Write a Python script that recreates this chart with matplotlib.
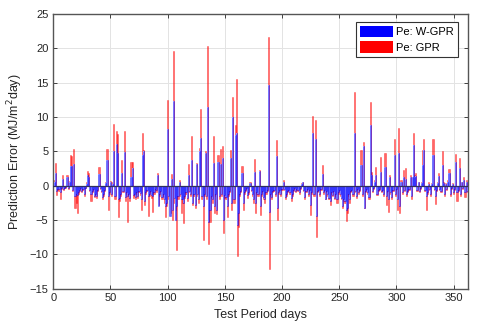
import numpy as np
import matplotlib
matplotlib.use("Agg")
import matplotlib.pyplot as plt
from matplotlib.patches import Patch

plt.rcParams['font.family'] = ['Liberation Sans', 'DejaVu Sans']

# prediction error per test day, GPR model (red)
gpr = [
    0.8, 3.3, -1.3, -0.6, -0.8, -2.0, -0.5, 1.5, -0.7, -0.4,
    -0.3, 1.6, -0.5, 0.7, 4.4, 4.3, -0.8, 5.3, -3.2, -2.5,
    -4.0, -1.2, -0.8, -0.5, -1.0, -0.6, -1.5, -0.4, 0.5, 2.2,
    1.8, -0.8, -2.2, -1.0, -0.6, -1.6, -1.4, -1.8, -0.8, 2.7,
    -0.5, -1.0, -2.0, -1.5, -0.8, 0.6, 5.4, -3.6, -1.2, 0.7,
    -1.5, 0.5, 9.0, -2.0, 8.0, 7.5, -4.6, -2.2, -1.5, 3.7,
    -1.0, 7.9, -2.3, -1.2, -5.3, -1.5, -2.3, 3.5, 3.4, -1.8,
    -1.5, -2.0, -1.2, -1.8, -1.0, -1.4, -3.5, 7.7, 5.2, -2.8,
    -1.2, -0.8, -4.4, -1.5, -1.0, -1.8, -3.8, -1.2, -0.6, -0.9,
    1.8, -2.8, -1.5, -1.0, -2.0, -1.5, -2.5, -4.5, -3.0, 12.5,
    -2.0, -4.0, 1.7, -5.0, 19.6, -2.5, -3.5, -9.4, -2.0, 0.8,
    -1.5, -4.0, -2.5, -5.5, -1.8, -1.2, -2.2, 3.2, -1.0, -1.5,
    7.2, -2.8, -1.5, -3.3, 3.3, -1.5, -2.5, 5.5, 11.2, -2.0,
    -7.9, -1.5, 5.0, -2.0, 20.4, -8.5, -5.3, -1.8, -2.5, 7.2,
    -4.0, -1.5, -4.2, 4.5, -2.0, 5.3, -1.5, 5.8, -6.9, -1.8,
    -2.0, -4.5, -1.5, -1.0, 5.2, -3.5, 12.9, -2.5, 8.8, 15.6,
    -10.2, -6.0, -1.5, -1.0, 2.8, -3.6, -1.2, -0.8, -0.5, -1.8,
    -1.2, 0.5, -0.8, -1.5, -2.5, 3.9, -4.0, -1.2, -1.5, 2.3,
    -4.3, -1.5, -1.0, -2.0, -2.5, -1.2, -0.8, 21.6, -12.1, -1.5,
    -2.0, -1.0, -0.8, -1.5, 6.6, -5.0, -1.2, -0.8, -1.5, -0.6,
    0.8, -0.6, -2.0, -1.5, -1.0, -0.8, -1.2, -2.2, -1.5, -0.8,
    -0.5, -1.0, -0.6, -0.8, -1.2, -0.5, 0.4, 0.6, -0.8, -2.0,
    -1.0, -0.6, -1.5, -0.8, -4.3, -1.2, 10.1, -1.5, 9.5, -7.5,
    -1.0, -0.8, -1.5, -0.6, 3.0, -1.2, -0.8, -2.0, -1.0, -1.5,
    -2.0, -2.8, -1.2, -1.5, -1.0, -2.0, -1.5, -2.5, -1.2, -0.8,
    -1.5, -2.0, -3.3, -2.2, -2.5, -5.1, -4.0, -1.5, -2.5, -1.0,
    -0.8, -1.5, 13.7, -1.0, -1.8, -0.6, -1.2, -0.8, 5.2, -1.5,
    6.4, -3.3, -1.0, -0.6, -1.2, -2.0, 12.2, 2.0, -1.0, -0.5,
    0.8, 2.7, -1.4, -0.8, -0.6, 4.2, -1.0, -0.8, -1.5, 4.7,
    -2.8, -1.0, -3.8, 1.6, -1.2, -2.0, -0.8, 6.8, -1.5, -0.6,
    -3.5, 8.4, -4.0, 0.8, -1.2, 2.3, -0.8, 2.5, -1.5, -1.0,
    -0.6, 1.6, -2.0, 0.8, 7.6, 1.5, 1.9, -0.8, 0.6, -1.0,
    -0.5, 0.6, 5.2, 6.8, -0.8, -3.5, -1.2, 0.5, -0.6, -1.5,
    0.4, 6.8, -0.6, -2.7, -0.8, 0.5, 1.8, -0.6, -1.0, 5.0,
    0.6, -1.5, 0.4, -0.6, 0.8, 2.4, -1.5, -0.5, 0.4, -1.2,
    -0.6, 4.6, -2.3, -0.8, 4.0, -1.5, 0.6, -0.5, 1.2, -1.6,
    0.8, -1.0, 0.5,
]

# prediction error per test day, W-GPR model (blue)
wgpr = [
    0.5, 1.8, -0.8, -0.5, -0.5, -0.9, -0.4, 1.0, -0.5, -0.3,
    -0.2, 1.2, -0.4, 0.5, 2.8, 2.9, -0.6, 3.1, -1.5, -1.2,
    -1.3, -1.0, -0.7, -0.4, -0.8, -0.5, -1.2, -0.3, 0.3, 1.5,
    1.2, -0.6, -1.2, -0.8, -0.5, -1.5, -1.2, -1.5, -0.6, 1.7,
    -0.4, -0.8, -1.6, -1.2, -0.6, 0.4, 3.7, -1.5, -0.9, 0.5,
    -1.2, 0.3, 5.0, -1.5, 6.0, 4.8, -2.0, -1.8, -1.2, 1.9,
    -0.8, 4.9, -1.6, -1.0, -1.5, -1.2, -1.8, 1.2, 2.5, -1.4,
    -1.2, -1.6, -1.0, -1.5, -0.8, -1.1, -2.0, 4.5, 5.0, -2.2,
    -1.0, -0.6, -1.5, -1.2, -0.8, -1.4, -1.5, -1.0, -0.5, -0.7,
    1.5, -2.9, -1.2, -0.8, -1.6, -1.2, -2.0, -3.0, -2.5, 8.2,
    -1.5, -4.4, 1.0, -3.5, 12.4, -1.8, -5.0, -3.0, -1.5, 0.5,
    -1.2, -2.0, -2.0, -2.5, -1.5, -1.0, -1.8, 1.6, -0.8, -1.2,
    3.8, -2.5, -1.2, -2.8, 3.1, -1.2, -2.0, 5.0, 7.0, -1.5,
    -3.0, -1.2, 4.8, -1.5, 11.5, -5.3, -3.5, -1.5, -2.0, 3.3,
    -3.0, -1.2, -3.5, 3.5, -1.5, 3.2, -1.2, 4.0, -5.0, -1.4,
    -1.6, -3.0, -1.2, -0.8, 4.0, -2.5, 10.0, -2.0, 7.4, 7.6,
    -5.8, -4.0, -1.2, -0.8, 1.9, -2.5, -1.0, -0.6, -0.4, -1.4,
    -1.0, 0.4, -0.6, -1.2, -2.0, 2.0, -2.5, -1.0, -1.2, 2.2,
    -3.0, -1.2, -0.8, -1.6, -2.0, -1.0, -0.6, 14.6, -3.8, -1.2,
    -1.6, -0.8, -0.6, -1.2, 4.3, -3.3, -1.0, -0.6, -1.2, -0.5,
    0.5, -0.5, -1.6, -1.2, -0.8, -0.6, -1.0, -1.8, -1.2, -0.6,
    -0.4, -0.8, -0.5, -0.6, -1.0, -0.4, 0.3, 0.5, -0.6, -1.6,
    -0.8, -0.5, -1.2, -0.6, -2.8, -1.0, 7.6, -1.2, 6.8, -4.4,
    -0.8, -0.6, -1.2, -0.5, 1.7, -1.0, -0.6, -2.0, -0.8, -1.2,
    -1.8, -2.2, -1.0, -1.4, -0.8, -1.8, -1.2, -2.0, -1.0, -0.6,
    -1.2, -1.8, -3.0, -2.0, -2.2, -3.5, -3.2, -1.2, -2.0, -0.8,
    -0.6, -1.2, 7.7, -0.8, -1.5, -0.5, -1.0, -0.6, 3.0, -1.2,
    5.8, -3.2, -0.8, -0.5, -1.0, -1.6, 8.9, 1.5, -0.8, -0.4,
    0.5, 1.6, -1.2, -0.6, -0.5, 2.0, -0.8, -0.6, -1.2, 2.7,
    -1.5, -0.8, -2.0, 1.2, -1.0, -1.6, -0.6, 4.4, -1.2, -0.5,
    -2.0, 4.8, -3.0, 0.5, -1.0, 1.2, -0.6, 1.0, -1.2, -0.8,
    -0.5, 1.2, -1.5, 1.2, 5.9, 1.3, 1.4, -0.6, 0.5, -0.8,
    -0.4, 0.4, 3.0, 5.2, -0.6, -1.5, -1.0, 0.3, -0.5, -1.2,
    0.3, 4.4, -0.5, -1.5, -0.6, 0.4, 1.4, -0.5, -0.8, 3.0,
    0.4, -1.2, 0.3, -0.5, 0.6, 1.8, -1.2, -0.4, 0.3, -1.0,
    -0.5, 3.4, -1.0, -0.6, 2.6, -1.2, 0.5, -0.4, 0.8, -1.0,
    0.5, -0.8, 0.3,
]

days = np.arange(1, len(gpr) + 1)

fig = plt.figure(figsize=(4.8, 3.34), dpi=100)
ax = fig.add_axes([0.111, 0.136, 0.865, 0.822])

# red GPR bars, then white mask + blue W-GPR bars on top
ax.bar(days, gpr, width=1.0, color='red', alpha=0.6, linewidth=0.4,
       edgecolor=(1, 0, 0, 0.3), zorder=2)
ax.bar(days, wgpr, width=1.0, color='white', linewidth=0, zorder=3)
ax.bar(days, wgpr, width=1.0, color='blue', alpha=0.6, linewidth=0.4,
       edgecolor=(0, 0, 1, 0.3), zorder=4)
ax.axhline(0, color='#303060', lw=0.9, zorder=5)

ax.set_xlim(0, 363)
ax.set_ylim(-15, 25)
ax.set_xticks(range(0, 351, 50))
ax.set_yticks(range(-15, 26, 5))
ax.grid(True, color='#e3e3e3', lw=0.7, zorder=0)
ax.set_axisbelow(True)
ax.tick_params(direction='in', top=True, right=True, labelsize=8,
               colors='#262626', length=3, width=0.6)
for s in ax.spines.values():
    s.set_color('#555555')
    s.set_linewidth(1.0)

ax.set_xlabel('Test Period days', fontsize=9, color='#262626', labelpad=4)
ax.set_ylabel('Prediction Error (MJ/m$^2$day)', fontsize=9, color='#262626', labelpad=3)

handles = [Patch(facecolor='blue', edgecolor='none', label='Pe: W-GPR'),
           Patch(facecolor='red', edgecolor='none', label='Pe: GPR')]
leg = ax.legend(handles=handles, loc='upper right', fontsize=8,
                handlelength=3.0, handleheight=1.2, fancybox=False,
                edgecolor='#333333', framealpha=1, borderpad=0.35,
                labelspacing=0.35, handletextpad=0.3, borderaxespad=0,
                bbox_to_anchor=(0.975, 0.971))
leg.get_frame().set_linewidth(0.8)

fig.savefig('out.png', dpi=100)
